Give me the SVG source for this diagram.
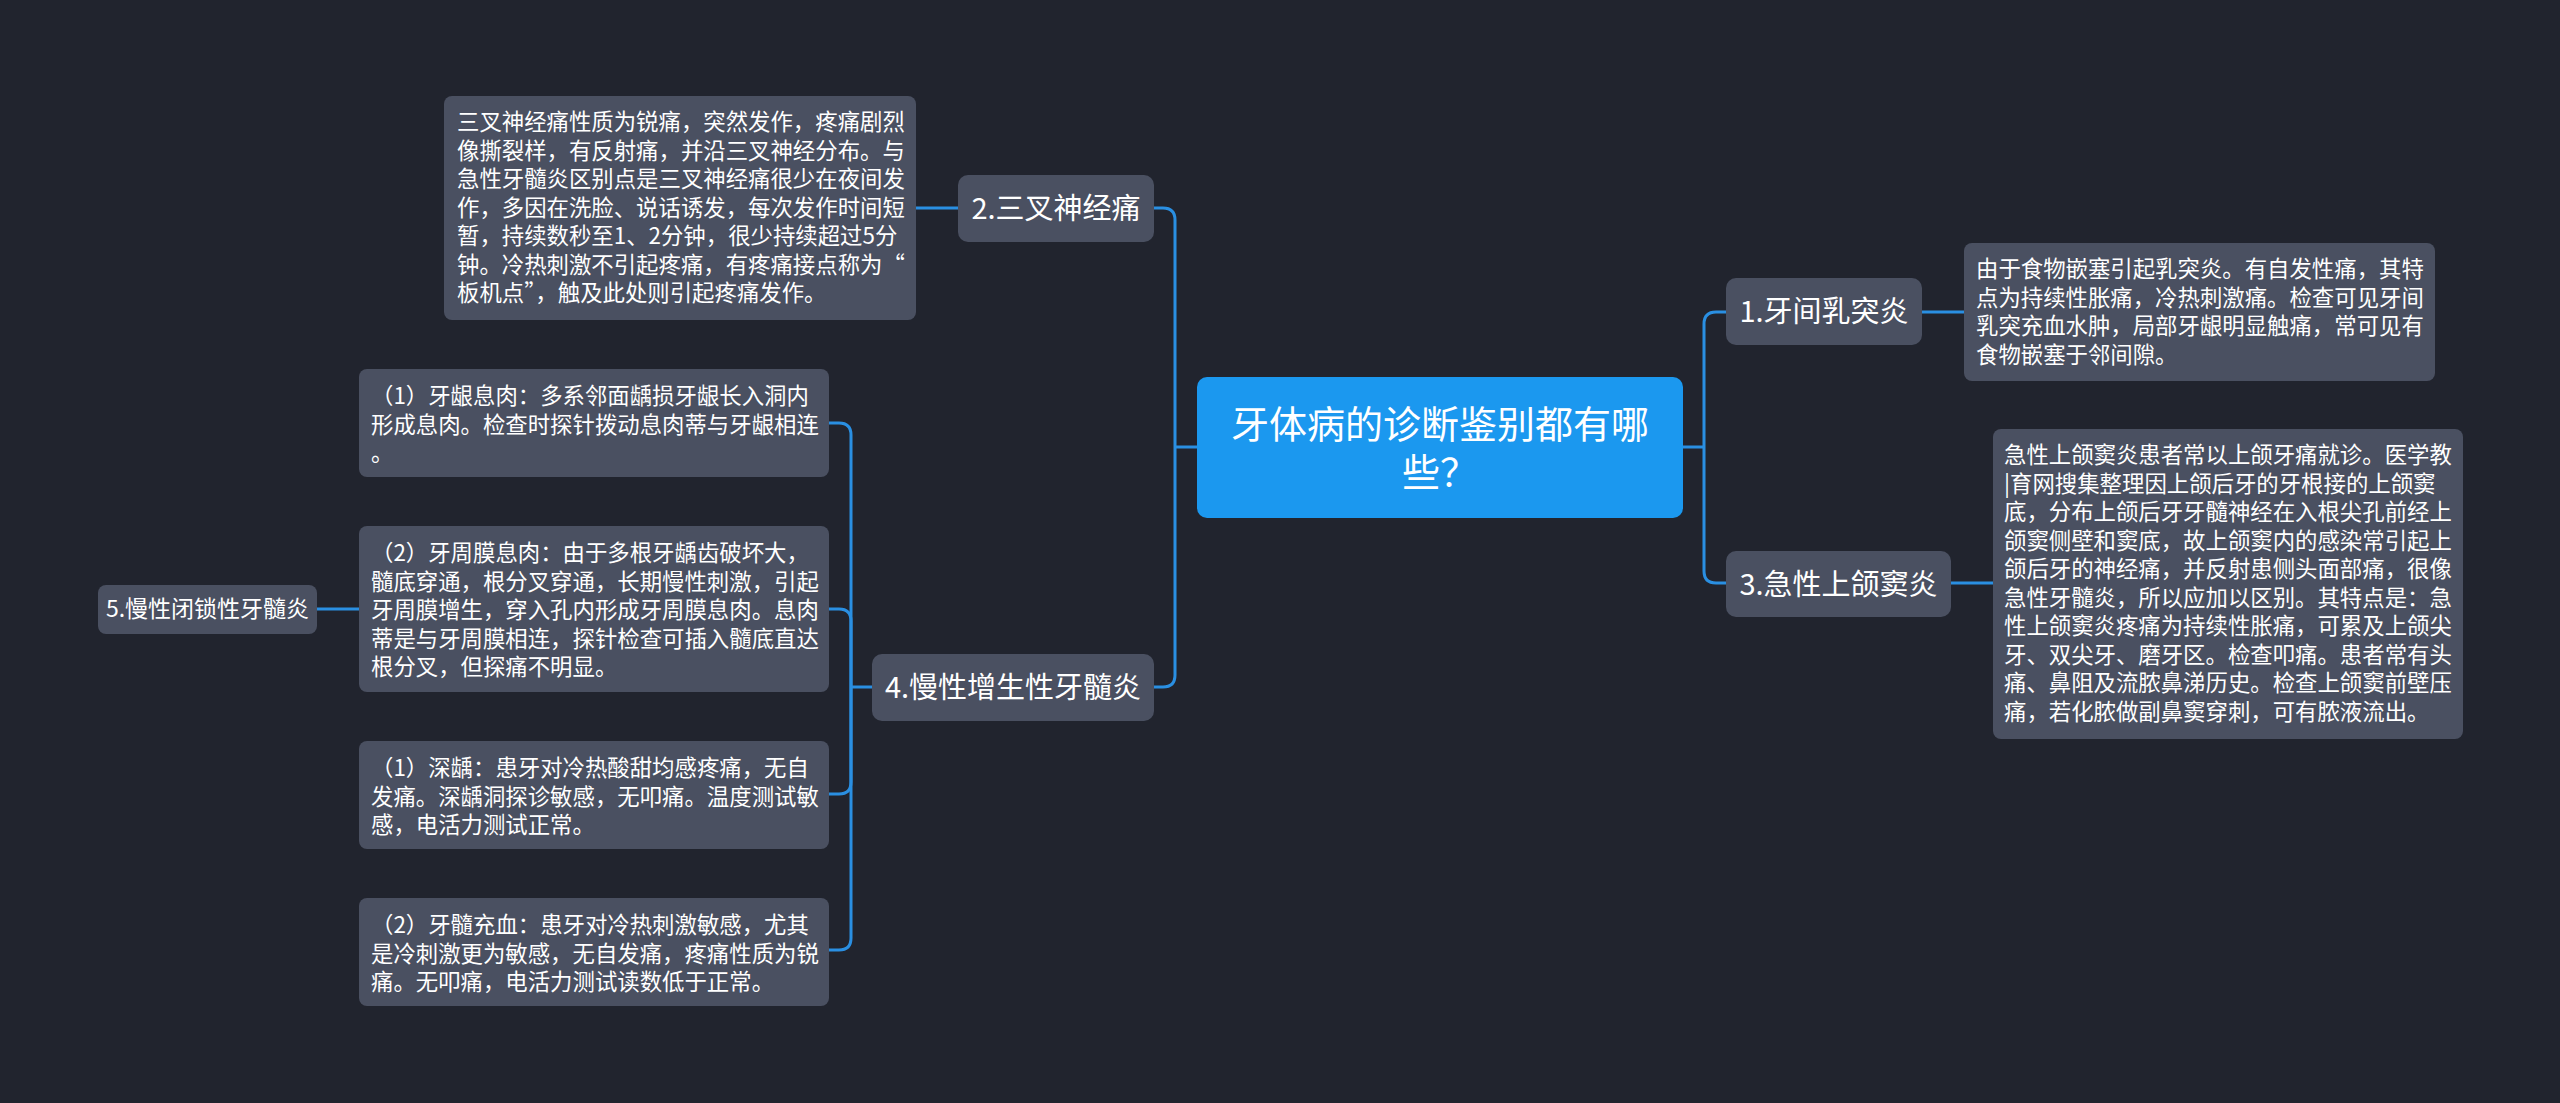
<svg xmlns="http://www.w3.org/2000/svg" width="2560" height="1103" viewBox="0 0 2560 1103">
<style>
.bg{fill:#21242e}
.node rect{fill:#4a5061}
.root rect{fill:#1b98ef}
text{font-family:"Noto Sans CJK SC","Noto Sans",sans-serif;fill:#ffffff}
.t{font-size:29px;text-anchor:middle}
.rt{font-size:38px;text-anchor:middle}
.d{font-size:22.4px}
.s{font-size:23px;text-anchor:middle}
.c path{fill:none;stroke:#2a8fe2;stroke-width:3}
</style>
<rect class="bg" x="0" y="0" width="2560" height="1103"/>
<g class="c" id="connectors">
<path d="M1197,447 H1175"/>
<path d="M1175,447 V220 Q1175,208 1163,208 H1154"/>
<path d="M1175,447 V675 Q1175,687 1163,687 H1154"/>
<path d="M958,208 H916"/>
<path d="M872,687 H851"/>
<path d="M851,687 V435 Q851,423 839,423 H829"/>
<path d="M851,687 V621 Q851,609 839,609 H829"/>
<path d="M851,687 V782 Q851,794 839,794 H829"/>
<path d="M851,687 V938 Q851,950 839,950 H829"/>
<path d="M317,609 H359"/>
<path d="M1683,447 H1704"/>
<path d="M1704,447 V324 Q1704,312 1716,312 H1726"/>
<path d="M1704,447 V571 Q1704,583 1716,583 H1726"/>
<path d="M1922,312 H1964"/>
<path d="M1951,583 H1993"/>
</g>
<g class="root" id="root">
<rect x="1197" y="377" width="486" height="141" rx="10"/>
<text class="rt" x="1440" y="438">牙体病的诊断鉴别都有哪</text>
<text class="rt" x="1440" y="486">些？</text>
</g>
<g class="node" id="n2">
<rect x="958" y="175" width="196" height="67" rx="10"/>
<text class="t" x="1056" y="219">2.三叉神经痛</text>
</g>
<g class="node" id="n2d">
<rect x="444" y="96" width="472" height="224" rx="8"/>
<text class="d" x="457" y="130">三叉神经痛性质为锐痛，突然发作，疼痛剧烈</text>
<text class="d" x="457" y="158.5">像撕裂样，有反射痛，并沿三叉神经分布。与</text>
<text class="d" x="457" y="187">急性牙髓炎区别点是三叉神经痛很少在夜间发</text>
<text class="d" x="457" y="215.5">作，多因在洗脸、说话诱发，每次发作时间短</text>
<text class="d" x="457" y="244">暂，持续数秒至1、2分钟，很少持续超过5分</text>
<text class="d" x="457" y="272.5">钟。冷热刺激不引起疼痛，有疼痛接点称为“</text>
<text class="d" x="457" y="301">板机点”，触及此处则引起疼痛发作。</text>
</g>
<g class="node" id="n4">
<rect x="872" y="654" width="282" height="67" rx="10"/>
<text class="t" x="1013" y="698">4.慢性增生性牙髓炎</text>
</g>
<g class="node" id="n4a">
<rect x="359" y="369" width="470" height="108" rx="8"/>
<text class="d" x="371" y="404">（1）牙龈息肉：多系邻面龋损牙龈长入洞内</text>
<text class="d" x="371" y="432.5">形成息肉。检查时探针拨动息肉蒂与牙龈相连</text>
<text class="d" x="371" y="461">。</text>
</g>
<g class="node" id="n4b">
<rect x="359" y="526" width="470" height="166" rx="8"/>
<text class="d" x="371" y="561">（2）牙周膜息肉：由于多根牙龋齿破坏大，</text>
<text class="d" x="371" y="589.5">髓底穿通，根分叉穿通，长期慢性刺激，引起</text>
<text class="d" x="371" y="618">牙周膜增生，穿入孔内形成牙周膜息肉。息肉</text>
<text class="d" x="371" y="646.5">蒂是与牙周膜相连，探针检查可插入髓底直达</text>
<text class="d" x="371" y="675">根分叉，但探痛不明显。</text>
</g>
<g class="node" id="n4c">
<rect x="359" y="741" width="470" height="108" rx="8"/>
<text class="d" x="371" y="776">（1）深龋：患牙对冷热酸甜均感疼痛，无自</text>
<text class="d" x="371" y="804.5">发痛。深龋洞探诊敏感，无叩痛。温度测试敏</text>
<text class="d" x="371" y="833">感，电活力测试正常。</text>
</g>
<g class="node" id="n4d">
<rect x="359" y="898" width="470" height="108" rx="8"/>
<text class="d" x="371" y="933">（2）牙髓充血：患牙对冷热刺激敏感，尤其</text>
<text class="d" x="371" y="961.5">是冷刺激更为敏感，无自发痛，疼痛性质为锐</text>
<text class="d" x="371" y="990">痛。无叩痛，电活力测试读数低于正常。</text>
</g>
<g class="node" id="n5">
<rect x="98" y="585" width="219" height="49" rx="8"/>
<text class="s" x="207.5" y="617">5.慢性闭锁性牙髓炎</text>
</g>
<g class="node" id="n1">
<rect x="1726" y="278" width="196" height="67" rx="10"/>
<text class="t" x="1824" y="322">1.牙间乳突炎</text>
</g>
<g class="node" id="n1d">
<rect x="1964" y="243" width="471" height="138" rx="8"/>
<text class="d" x="1976" y="277">由于食物嵌塞引起乳突炎。有自发性痛，其特</text>
<text class="d" x="1976" y="305.5">点为持续性胀痛，冷热刺激痛。检查可见牙间</text>
<text class="d" x="1976" y="334">乳突充血水肿，局部牙龈明显触痛，常可见有</text>
<text class="d" x="1976" y="362.5">食物嵌塞于邻间隙。</text>
</g>
<g class="node" id="n3">
<rect x="1726" y="551" width="225" height="66" rx="10"/>
<text class="t" x="1838.5" y="595">3.急性上颌窦炎</text>
</g>
<g class="node" id="n3d">
<rect x="1993" y="429" width="470" height="310" rx="8"/>
<text class="d" x="2004" y="463">急性上颌窦炎患者常以上颌牙痛就诊。医学教</text>
<text class="d" x="2004" y="491.5">|育网搜集整理因上颌后牙的牙根接的上颌窦</text>
<text class="d" x="2004" y="520">底，分布上颌后牙牙髓神经在入根尖孔前经上</text>
<text class="d" x="2004" y="548.5">颌窦侧壁和窦底，故上颌窦内的感染常引起上</text>
<text class="d" x="2004" y="577">颌后牙的神经痛，并反射患侧头面部痛，很像</text>
<text class="d" x="2004" y="605.5">急性牙髓炎，所以应加以区别。其特点是：急</text>
<text class="d" x="2004" y="634">性上颌窦炎疼痛为持续性胀痛，可累及上颌尖</text>
<text class="d" x="2004" y="662.5">牙、双尖牙、磨牙区。检查叩痛。患者常有头</text>
<text class="d" x="2004" y="691">痛、鼻阻及流脓鼻涕历史。检查上颌窦前壁压</text>
<text class="d" x="2004" y="719.5">痛，若化脓做副鼻窦穿刺，可有脓液流出。</text>
</g>
</svg>
